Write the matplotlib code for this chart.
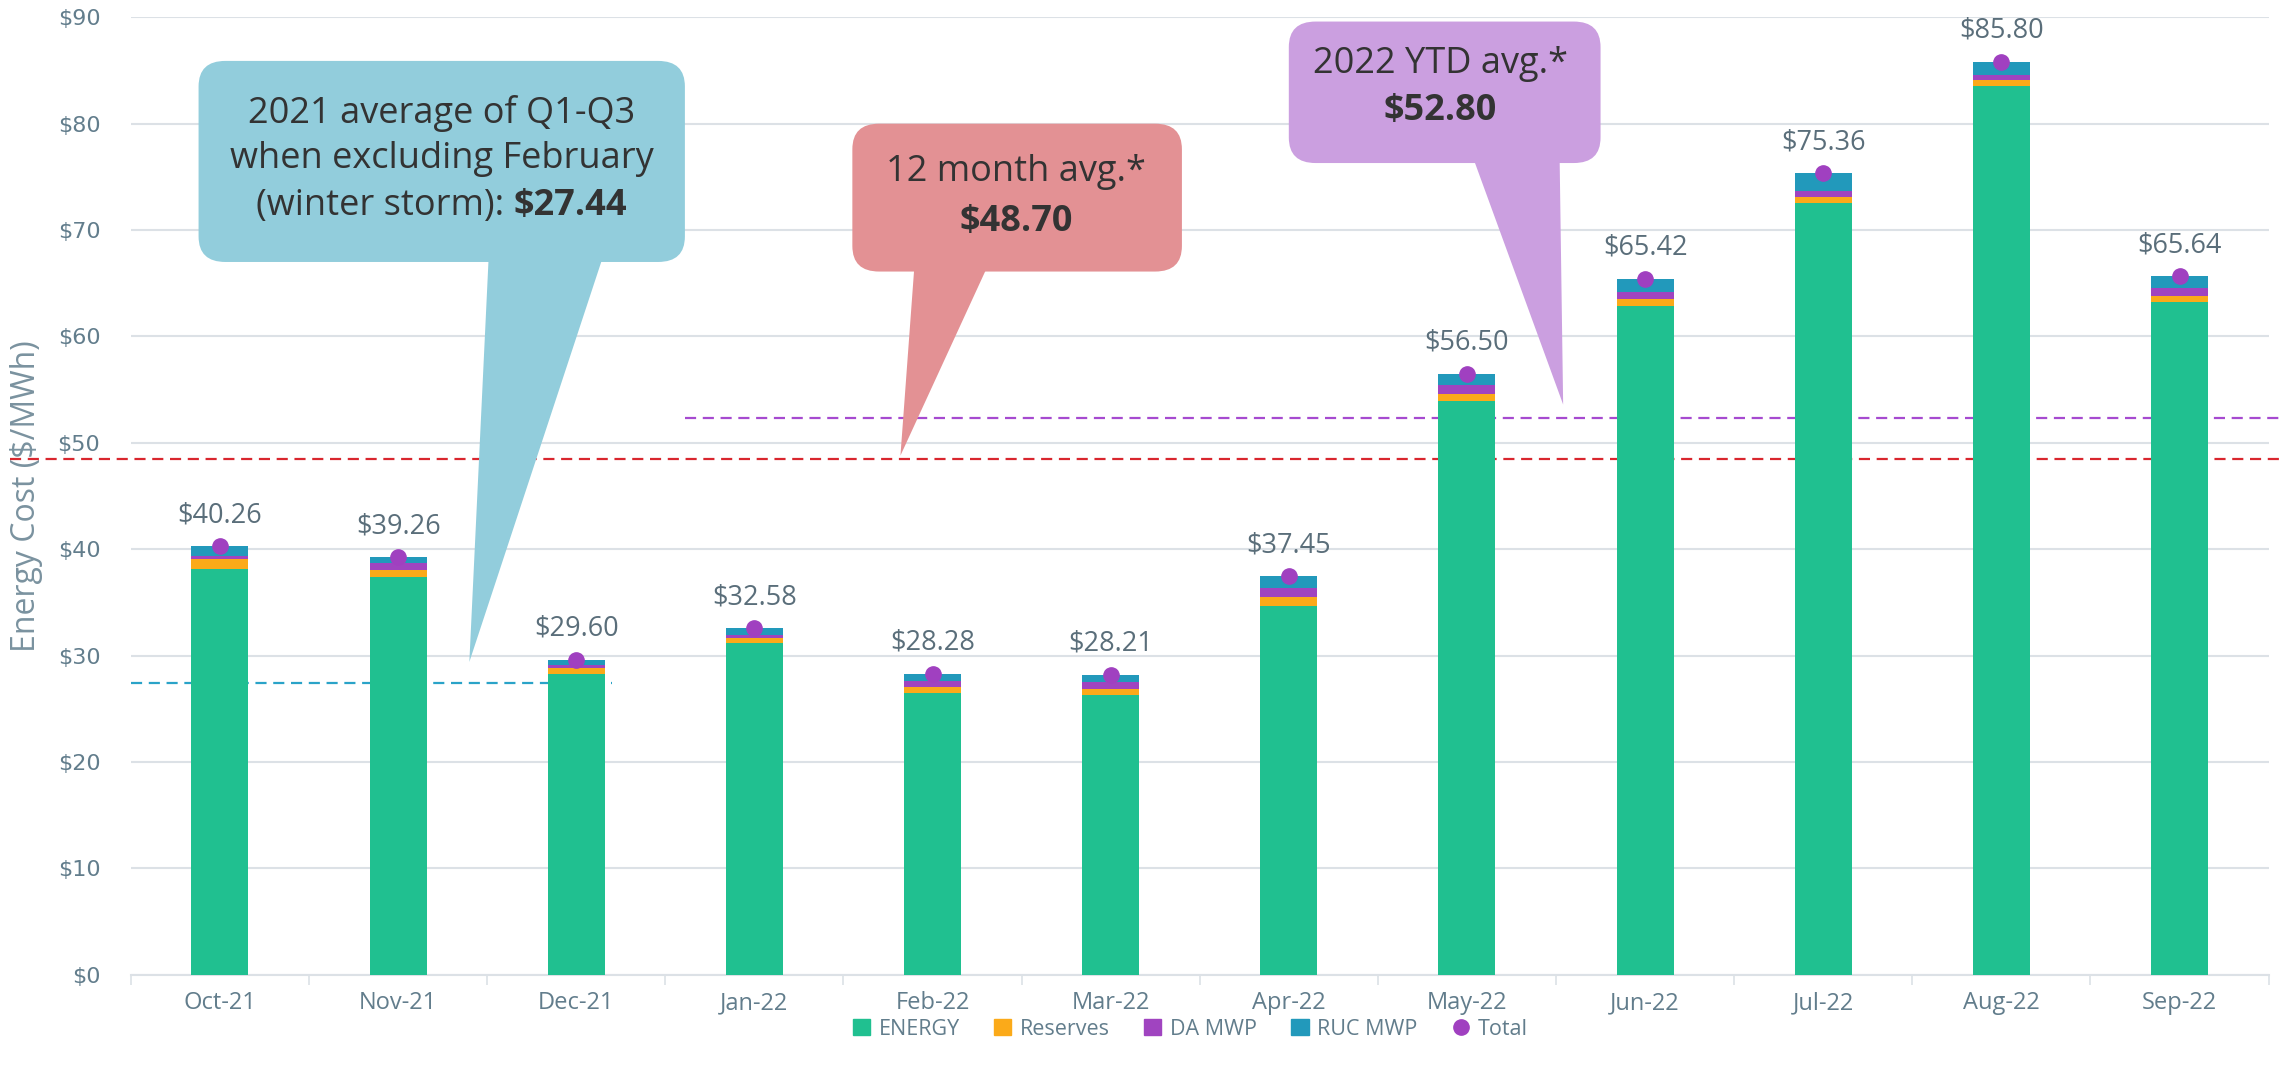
import matplotlib
matplotlib.use("Agg")
import matplotlib.pyplot as plt
from matplotlib.patches import FancyBboxPatch, Polygon, Patch
from matplotlib.lines import Line2D
from matplotlib.offsetbox import TextArea, HPacker, AnnotationBbox

plt.rcParams['text.parse_math'] = False
plt.rcParams['font.family'] = ['Open Sans', 'DejaVu Sans']

# data
months = ["Oct-21", "Nov-21", "Dec-21", "Jan-22", "Feb-22", "Mar-22",
          "Apr-22", "May-22", "Jun-22", "Jul-22", "Aug-22", "Sep-22"]
energy   = [38.13, 37.40, 28.26, 31.14, 26.52, 26.33, 34.70, 53.90, 62.90, 72.50, 83.50, 63.20]
reserves = [0.91, 0.66, 0.56, 0.53, 0.53, 0.56, 0.80, 0.70, 0.60, 0.60, 0.60, 0.60]
da_mwp   = [0.34, 0.60, 0.31, 0.31, 0.60, 0.66, 0.90, 0.80, 0.72, 0.60, 0.50, 0.80]
ruc_mwp  = [0.88, 0.60, 0.47, 0.60, 0.63, 0.66, 1.05, 1.10, 1.20, 1.66, 1.20, 1.04]
total    = [40.26, 39.26, 29.60, 32.58, 28.28, 28.21, 37.45, 56.50, 65.42, 75.36, 85.80, 65.64]

avg_2021_label = "$27.44"
avg_12m_label = "$48.70"
avg_ytd_label = "$52.80"
# dashed reference line levels as drawn
line_2021 = 27.44
line_12m = 48.5
line_ytd = 52.3

C_EN, C_RES, C_DA, C_RUC = "#20C090", "#FBAA19", "#A044C0", "#2299BB"
TXT = "#627D8C"
GRID = "#DCE1E6"

fig = plt.figure(figsize=(22.8, 10.81), dpi=100)
ax = fig.add_axes([0.0574, 0.0983, 0.9376, 0.8857])

x = list(range(len(months)))
w = 0.32
b1 = energy
b2 = [a + b for a, b in zip(b1, reserves)]
b3 = [a + b for a, b in zip(b2, da_mwp)]
ax.bar(x, energy, w, color=C_EN, zorder=3)
ax.bar(x, reserves, w, bottom=b1, color=C_RES, zorder=3)
ax.bar(x, da_mwp, w, bottom=b2, color=C_DA, zorder=3)
ax.bar(x, ruc_mwp, w, bottom=b3, color=C_RUC, zorder=3)
ax.plot(x, total, 'o', color="#A040C0", ms=11, zorder=4)

for i, t in enumerate(total):
    ax.text(i, t + 1.6, f"${t:.2f}", ha='center', va='bottom', fontsize=19.5, color="#5A6E7A", zorder=4)

ax.set_xlim(-0.5, 11.5)
ax.set_ylim(0, 90)
ax.set_yticks(range(0, 91, 10))
ax.set_yticklabels([f"${v}" for v in range(0, 91, 10)], family='DejaVu Sans', fontsize=16, color=TXT)
ax.set_xticks(x)
ax.set_xticklabels(months, fontsize=17, color=TXT)
ax.set_xticks([i - 0.5 for i in range(13)], minor=True)
ax.tick_params(axis='y', length=0, pad=22)
ax.tick_params(axis='x', which='major', length=0, pad=12)
ax.tick_params(axis='x', which='minor', length=7, color=GRID, width=1.2)
ax.yaxis.grid(True, color=GRID, lw=1.5, zorder=0)
for s in ['top', 'right', 'left']:
    ax.spines[s].set_visible(False)
ax.spines['bottom'].set_color(GRID)
ax.spines['bottom'].set_linewidth(1.5)
ax.set_ylabel("Energy Cost ($/MWh)", fontsize=23, color="#7A929F")
ax.yaxis.set_label_coords(-0.041, 0.5)

# dashed averages
ax.plot([-0.5, 2.2], [line_2021] * 2, ls='--', dashes=(5, 3), color="#2AA3C8", lw=1.6, zorder=2, clip_on=False)
ax.plot([-1.18, 11.57], [line_12m] * 2, ls='--', dashes=(5, 3), color="#D9262E", lw=1.6, zorder=2, clip_on=False)
ax.plot([2.61, 11.57], [line_ytd] * 2, ls='--', dashes=(5, 3), color="#A64AD0", lw=1.6, zorder=2, clip_on=False)

def callout(x0, x1, y0, y1, tail, color):
    ax.add_patch(FancyBboxPatch((x0, y0), x1 - x0, y1 - y0,
                                boxstyle="round,pad=0,rounding_size=0.15", mutation_aspect=16,
                                fc=color, ec='none', zorder=5, clip_on=False))
    ax.add_patch(Polygon(tail, closed=True, fc=color, ec='none', zorder=5, clip_on=False))

def line(cx, cy, parts):
    kids = [TextArea(s, textprops=dict(fontsize=26, color="#333333",
                                       fontweight='bold' if b else 'normal')) for s, b in parts]
    hp = HPacker(children=kids, pad=0, sep=0, align='baseline')
    ab = AnnotationBbox(hp, (cx, cy), frameon=False, box_alignment=(0.5, 0.5),
                        zorder=6, annotation_clip=False)
    ax.add_artist(ab)

callout(-0.12, 2.61, 67.0, 85.9, [(1.51, 68), (2.16, 68), (1.40, 29.4)], "#92CDDC")
line(1.245, 81.0, [("2021 average of Q1-Q3", False)])
line(1.245, 76.7, [("when excluding February", False)])
line(1.245, 72.3, [("(winter storm): ", False), (avg_2021_label, True)])

callout(3.55, 5.40, 66.1, 80.0, [(3.90, 67), (4.32, 67), (3.82, 48.8)], "#E39194")
line(4.47, 75.5, [("12 month avg.*", False)])
line(4.47, 70.8, [(avg_12m_label, True)])

callout(6.0, 7.75, 76.3, 89.6, [(7.03, 77), (7.52, 77), (7.54, 53.6)], "#CB9FE0")
line(6.85, 85.6, [("2022 YTD avg.*", False)])
line(6.85, 81.2, [(avg_ytd_label, True)])

handles = [Patch(color=C_EN), Patch(color=C_RES), Patch(color=C_DA), Patch(color=C_RUC),
           Line2D([], [], marker='o', ls='none', color="#A040C0", ms=11)]
leg = fig.legend(handles, ["ENERGY", "Reserves", "DA MWP", "RUC MWP", "Total"],
                 loc='center', bbox_to_anchor=(0.522, 0.048), ncol=5, frameon=False,
                 fontsize=15.5, handlelength=0.8, handleheight=0.8, handletextpad=0.4,
                 columnspacing=1.6)
for t in leg.get_texts():
    t.set_color(TXT)

fig.savefig("out.png", dpi=100)
